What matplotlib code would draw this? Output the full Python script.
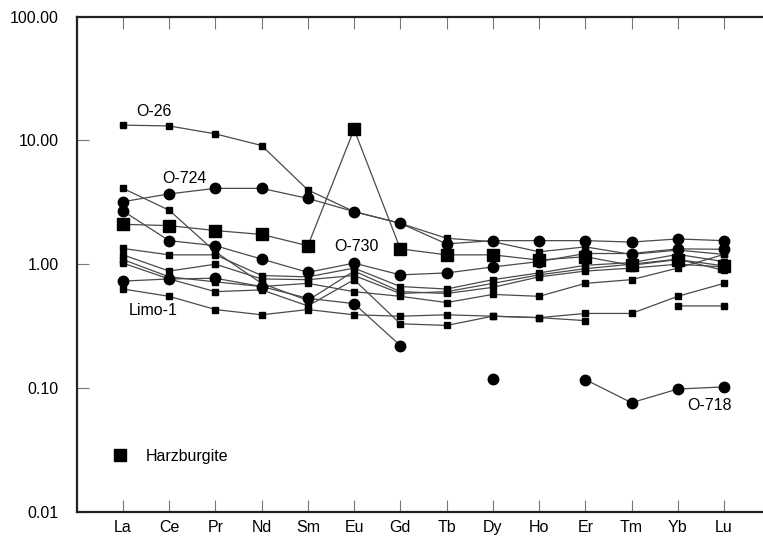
import numpy as np
import matplotlib
matplotlib.use("Agg")
import matplotlib.pyplot as plt
from matplotlib.lines import Line2D

plt.rcParams['font.family'] = ['Liberation Sans', 'DejaVu Sans']

elements = ["La", "Ce", "Pr", "Nd", "Sm", "Eu", "Gd", "Tb", "Dy", "Ho", "Er", "Tm", "Yb", "Lu"]
y_ticks = [0.01, 0.1, 1, 10, 100]
y_tick_labels = ["0.01", "0.10", "1.00", "10.00", "100.00"]
nan = np.nan

# Harzburgite samples (chondrite-normalised REE)
o26 = [13.3, 13.1, 11.3, 9.1, 3.98, 2.66, 2.14, 1.62, 1.52, 1.26, 1.38, 1.20, 1.30, 1.20]
o724 = [3.2, 3.7, 4.1, 4.1, 3.4, 2.66, 2.14, 1.46, 1.55, 1.55, 1.55, 1.51, 1.60, 1.55]
harz = [2.1, 2.05, 1.87, 1.74, 1.41, 12.3, 1.33, 1.19, 1.19, 1.08, 1.15, 0.98, 1.09, 0.97]
o730 = [2.69, 1.55, 1.41, 1.10, 0.86, 1.02, 0.82, 0.85, 0.95, 1.05, 1.22, 1.22, 1.33, 1.32]
o718 = [0.73, 0.76, 0.77, 0.66, 0.53, 0.48, 0.22, nan, 0.118, nan, 0.117, 0.076, 0.098, 0.102]
s_f = [4.1, 2.73, 1.26, 0.70, 0.51, 0.88, 0.60, 0.58, 0.65, 0.79, 0.88, 0.93, 1.00, 0.95]
s_g = [1.34, 1.19, 1.19, 0.81, 0.79, 0.93, 0.66, 0.63, 0.75, 0.85, 0.98, 1.03, 1.20, 1.05]
s_h = [1.19, 0.88, 1.00, 0.76, 0.75, 0.81, 0.58, 0.60, 0.70, 0.82, 0.92, 1.00, 1.10, 0.89]
s_i = [1.09, 0.79, 0.72, 0.66, 0.70, 0.60, 0.55, 0.49, 0.57, 0.55, 0.70, 0.75, 0.93, 1.20]
s_j = [1.02, 0.76, 0.60, 0.62, 0.46, 0.75, 0.33, 0.32, 0.38, 0.37, 0.40, 0.40, 0.55, 0.70]
limo1 = [0.63, 0.55, 0.43, 0.39, 0.43, 0.39, 0.38, 0.39, 0.38, 0.37, 0.35, nan, 0.46, 0.46]

small_sq = [o26, s_f, s_g, s_h, s_i, s_j, limo1]
circles = [o724, o730, o718]

W, H = 763, 545
fig = plt.figure(figsize=(W / 100, H / 100), dpi=100)
ax = fig.add_axes([76.7 / W, (H - 511.7) / H, 693.5 / W, 495.0 / H])

x = np.arange(len(elements))
line_kw = dict(color='#4a4a4a', lw=0.9, mfc='black', mec='black')

def plot_series(vals, marker, ms):
    v = np.array(vals, dtype=float)
    ax.plot(x, v, marker=marker, ms=ms, **line_kw)

for s in small_sq:
    plot_series(s, 's', 4.2)
for s in circles:
    plot_series(s, 'o', 7.5)
plot_series(harz, 's', 8.0)

ax.set_yscale('log')
ax.set_ylim(0.01, 100)
ax.set_xlim(-1, 14)
ax.set_xticks(x)
ax.set_xticklabels(elements)
ax.set_yticks(y_ticks)
ax.set_yticklabels(y_tick_labels)
ax.minorticks_off()
ax.tick_params(axis='both', which='major', direction='in', length=8.6, width=0.8,
               color='#777777', labelsize=11.5, labelcolor='black')
ax.tick_params(axis='x', top=True, pad=6)
ax.tick_params(axis='y', pad=13)
for sp in ax.spines.values():
    sp.set_linewidth(1.6)
    sp.set_color('#222222')

txt_kw = dict(fontsize=11.5, va='center', ha='left', color='black')
ax.text(0.283, 17.0, "O-26", **txt_kw)
ax.text(0.846, 4.97, "O-724", **txt_kw)
ax.text(4.567, 1.39, "O-730", **txt_kw)
ax.text(0.131, 0.421, "Limo-1", **txt_kw)
ax.text(12.2, 0.0728, "O-718", **txt_kw)

handle = Line2D([], [], marker='s', ls='none', color='black', ms=8)
leg = ax.legend([handle], ["Harzburgite"], loc='center left', frameon=False,
                bbox_to_anchor=((112 - 76.7) / 693.5, (511.7 - 456) / 495.0),
                borderpad=0, borderaxespad=0, handlelength=1.0, handletextpad=1.1,
                fontsize=11.5)

fig.savefig("out.png", dpi=100)
